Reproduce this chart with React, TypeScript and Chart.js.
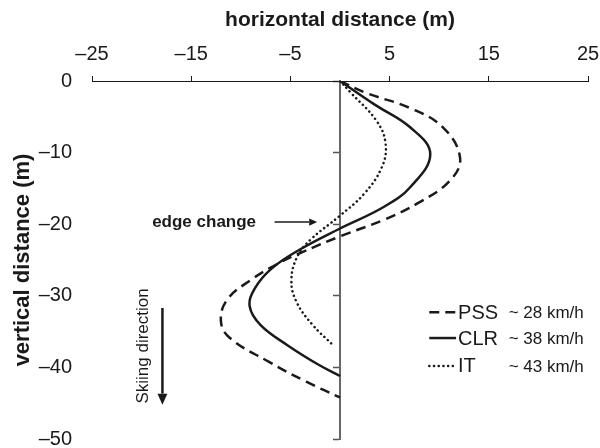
import React, { useEffect, useRef } from 'react';
import { Chart, registerables } from 'chart.js';

Chart.register(...registerables);

// ---- data ----
const xTickValues = [-25, -15, -5, 5, 15, 25];
const yTickValues = [0, -10, -20, -30, -40, -50];

const seriesNames = ['PSS', 'CLR', 'IT'];
const seriesSpeeds = ['~ 28 km/h', '~ 38 km/h', '~ 43 km/h'];

const pssX = [0, 2.7, 7.1, 10.4, 12.1, 11.1, 7.8, 4.4, 0, -3.8, -6.1, -9.0, -11.4, -12.0, -11.1, -7.2, -3.4, 0];
const pssY = [0, -1.7, -3.8, -6.5, -10.7, -13.9, -17.1, -19.4, -21.7, -23.9, -25.4, -27.8, -30.6, -33.6, -35.9, -39.2, -42.0, -44.2];

const clrX = [0, 3.5, 7.1, 9.1, 7.1, 4.4, 0, -4.0, -6.9, -8.6, -9.1, -8.0, -5.3, -2.2, 0];
const clrY = [0, -3.3, -6.5, -10.2, -14.8, -17.6, -20.6, -23.5, -26.2, -29.0, -31.5, -34.1, -36.9, -39.6, -41.2];

const itX = [0, 1.0, 3.7, 4.6, 4.2, 2.4, 0, -3.0, -4.3, -4.9, -4.4, -2.8, -0.7];
const itY = [0, -1.5, -5.6, -8.8, -12.1, -15.8, -18.8, -22.2, -24.5, -27.8, -30.8, -34.0, -36.9];

const FONT = '"Liberation Sans", Arial, Helvetica, sans-serif';
const INK = '#1a1a1a';

// annotation anchors (data units)
const edgeLabelPos = [-13.7, -19.7];
const edgeArrowFrom = [-6.6, -19.7];
const edgeArrowTo = [-2.3, -19.7];
const skiLabelPos = [-19.8, -37.0];
const skiArrowFrom = [-17.9, -31.7];
const skiArrowTo = [-17.9, -45.2];
const legendLineX = [9.0, 11.7];
const legendNameX = 11.9;
const legendSpeedX = 17.0;
const legendRowsY = [-32.3, -35.9, -39.8];

const toPts = (xs: number[], ys: number[]) => xs.map((x, i) => ({ x, y: ys[i] }));
const fmt = (v: number) => (v < 0 ? '\u2013' + Math.abs(v) : String(v));

function drawArrow(ctx: CanvasRenderingContext2D, x1: number, y1: number, x2: number, y2: number, w: number, head: number) {
  const ang = Math.atan2(y2 - y1, x2 - x1);
  const bx = x2 - Math.cos(ang) * head;
  const by = y2 - Math.sin(ang) * head;
  ctx.beginPath();
  ctx.lineWidth = w;
  ctx.moveTo(x1, y1);
  ctx.lineTo(bx, by);
  ctx.stroke();
  ctx.beginPath();
  ctx.moveTo(x2, y2);
  ctx.lineTo(bx + Math.sin(ang) * head * 0.45, by - Math.cos(ang) * head * 0.45);
  ctx.lineTo(bx - Math.sin(ang) * head * 0.45, by + Math.cos(ang) * head * 0.45);
  ctx.closePath();
  ctx.fill();
}

const annotationPlugin = {
  id: 'annotations',
  afterDatasetsDraw(chart: any) {
    const { ctx } = chart;
    const xs = chart.scales.x;
    const ys = chart.scales.y;
    const px = (v: number) => xs.getPixelForValue(v);
    const py = (v: number) => ys.getPixelForValue(v);
    ctx.save();
    ctx.fillStyle = INK;
    ctx.strokeStyle = INK;

    // edge change
    ctx.font = `bold 17px ${FONT}`;
    ctx.textAlign = 'center';
    ctx.textBaseline = 'middle';
    ctx.fillText('edge change', px(edgeLabelPos[0]), py(edgeLabelPos[1]));
    drawArrow(ctx, px(edgeArrowFrom[0]), py(edgeArrowFrom[1]), px(edgeArrowTo[0]), py(edgeArrowTo[1]), 1.5, 8);

    // skiing direction
    ctx.save();
    ctx.translate(px(skiLabelPos[0]), py(skiLabelPos[1]));
    ctx.rotate(-Math.PI / 2);
    ctx.font = `17px ${FONT}`;
    ctx.fillText('Skiing direction', 0, 0);
    ctx.restore();
    drawArrow(ctx, px(skiArrowFrom[0]), py(skiArrowFrom[1]), px(skiArrowTo[0]), py(skiArrowTo[1]), 2.5, 11);

    // legend
    chart.data.datasets.forEach((ds: any, i: number) => {
      const y = py(legendRowsY[i]);
      ctx.save();
      ctx.beginPath();
      ctx.lineWidth = ds.borderWidth;
      ctx.lineCap = ds.borderCapStyle || 'butt';
      ctx.setLineDash(ds.borderDash || []);
      ctx.moveTo(px(legendLineX[0]), y);
      ctx.lineTo(px(legendLineX[1]), y);
      ctx.stroke();
      ctx.restore();
      ctx.textAlign = 'left';
      ctx.textBaseline = 'middle';
      ctx.font = `20px ${FONT}`;
      ctx.fillText(seriesNames[i], px(legendNameX), y + 1);
      ctx.font = `17px ${FONT}`;
      ctx.fillText(seriesSpeeds[i], px(legendSpeedX), y + 1);
    });
    ctx.restore();
  },
};

export default function App() {
  const canvasRef = useRef<HTMLCanvasElement | null>(null);

  useEffect(() => {
    document.body.style.margin = '0';
    const canvas = canvasRef.current;
    if (!canvas) return;
    const chart = new Chart(canvas, {
      type: 'scatter',
      data: {
        datasets: [
          {
            label: seriesNames[0],
            data: toPts(pssX, pssY),
            showLine: true,
            borderColor: INK,
            borderWidth: 2.5,
            borderDash: [10, 6],
            pointRadius: 0,
            tension: 0.4,
            yAxisID: 'y',
          },
          {
            label: seriesNames[1],
            data: toPts(clrX, clrY),
            showLine: true,
            borderColor: INK,
            borderWidth: 2.5,
            pointRadius: 0,
            tension: 0.4,
            yAxisID: 'y',
          },
          {
            label: seriesNames[2],
            data: toPts(itX, itY),
            showLine: true,
            borderColor: INK,
            borderWidth: 2.5,
            borderDash: [0.1, 4.6],
            borderCapStyle: 'round',
            pointRadius: 0,
            tension: 0.4,
            yAxisID: 'y',
          },
        ],
      },
      options: {
        animation: false,
        responsive: false,
        layout: { padding: { left: 0, right: 12, top: 0, bottom: 9 } },
        plugins: { legend: { display: false }, tooltip: { enabled: false } },
        scales: {
          x: {
            type: 'linear',
            position: 'top',
            min: -25,
            max: 25,
            afterBuildTicks: (s: any) => {
              s.ticks = xTickValues.map((v) => ({ value: v }));
            },
            afterFit: (s: any) => {
              s.height = 81;
              s.paddingLeft = 0;
              s.paddingRight = 0;
            },
            ticks: {
              callback: (v: any) => fmt(Number(v)),
              color: INK,
              font: { family: FONT, size: 20 },
              padding: 10,
              maxRotation: 0,
            },
            grid: { drawOnChartArea: false, drawTicks: true, tickLength: 5, tickColor: INK, tickWidth: 1 },
            border: { display: true, color: INK, width: 1 },
            title: {
              display: true,
              text: 'horizontal distance (m)',
              color: INK,
              font: { family: FONT, size: 21, weight: 'bold' },
              padding: { top: 8, bottom: 0 },
            },
          },
          y: {
            type: 'linear',
            position: 'left',
            min: -50,
            max: 0,
            afterBuildTicks: (s: any) => {
              s.ticks = yTickValues.map((v) => ({ value: v }));
            },
            afterFit: (s: any) => {
              s.width = 92;
              s.paddingTop = 0;
              s.paddingBottom = 0;
            },
            ticks: {
              callback: (v: any) => fmt(Number(v)),
              color: INK,
              font: { family: FONT, size: 20 },
              padding: 12,
            },
            grid: { display: false },
            border: { display: false },
            title: {
              display: true,
              text: 'vertical distance (m)',
              color: INK,
              font: { family: FONT, size: 22, weight: 'bold' },
              padding: { top: 10, bottom: 0 },
            },
          },
          yCenter: {
            type: 'linear',
            axis: 'y',
            position: { x: 0 },
            min: -50,
            max: 0,
            afterBuildTicks: (s: any) => {
              s.ticks = yTickValues.map((v) => ({ value: v }));
            },
            afterFit: (s: any) => {
              s.paddingTop = 0;
              s.paddingBottom = 0;
            },
            ticks: { display: false },
            grid: { drawOnChartArea: false, drawTicks: true, tickLength: 6, tickColor: '#555', tickWidth: 1.5 },
            border: { display: true, color: '#666', width: 2 },
          },
        },
      } as any,
      plugins: [annotationPlugin],
    });
    return () => chart.destroy();
  }, []);

  return (
    <div style={{ width: 600, height: 448 }}>
      <canvas ref={canvasRef} width={600} height={448} />
    </div>
  );
}
